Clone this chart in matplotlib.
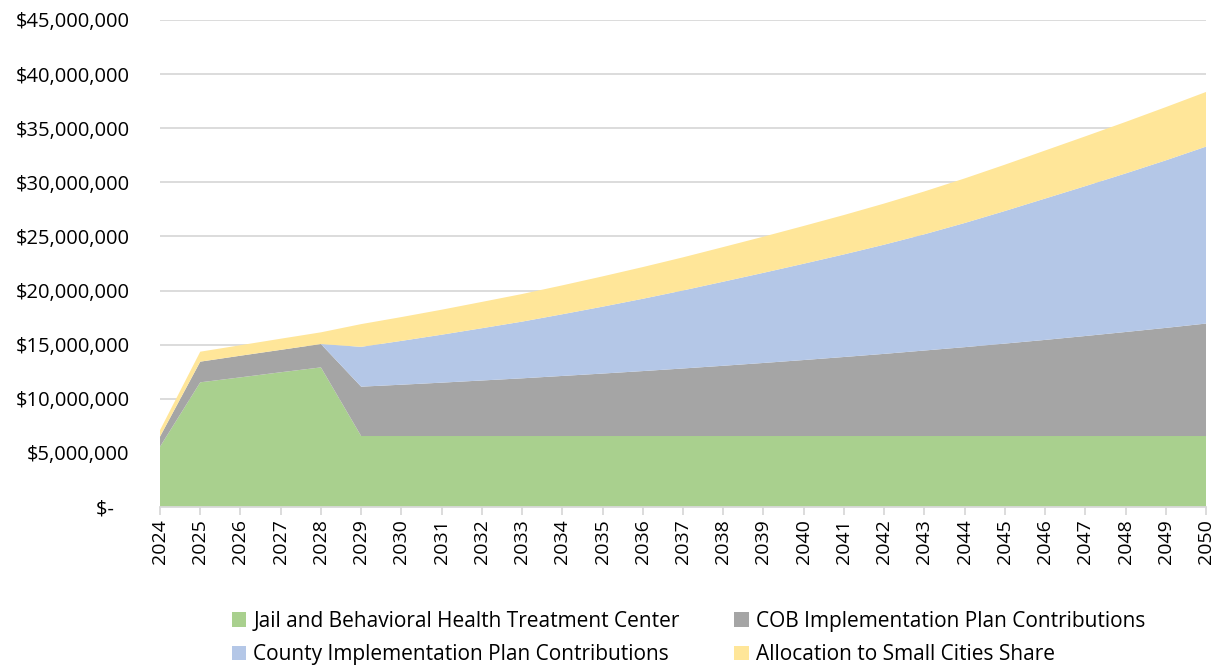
import matplotlib
matplotlib.use("Agg")
import matplotlib.pyplot as plt
from matplotlib.patches import Patch
from matplotlib.ticker import FuncFormatter

years = list(range(2024, 2051))

jail_bhtc = [5.57, 11.52, 11.98, 12.45, 12.90, 6.56, 6.56, 6.56, 6.56, 6.56,
             6.56, 6.56, 6.56, 6.56, 6.56, 6.56, 6.56, 6.56, 6.56, 6.56,
             6.56, 6.56, 6.56, 6.56, 6.56, 6.56, 6.56]
cob_plan = [0.93, 1.91, 2.00, 2.07, 2.16, 4.56, 4.74, 4.93, 5.13, 5.33,
            5.55, 5.77, 6.00, 6.24, 6.49, 6.75, 7.02, 7.30, 7.59, 7.90,
            8.21, 8.54, 8.88, 9.24, 9.61, 9.99, 10.39]
county_plan = [0.0, 0.0, 0.0, 0.0, 0.0, 3.68, 4.05, 4.43, 4.83, 5.24,
               5.70, 6.18, 6.68, 7.21, 7.77, 8.33, 8.90, 9.48, 10.09, 10.74,
               11.47, 12.25, 13.06, 13.85, 14.65, 15.48, 16.35]
small_cities = [0.60, 0.92, 0.97, 1.03, 1.08, 2.10, 2.20, 2.31, 2.43, 2.55,
                2.67, 2.80, 2.93, 3.06, 3.20, 3.34, 3.49, 3.64, 3.80, 3.96,
                4.12, 4.28, 4.44, 4.60, 4.76, 4.92, 5.05]

series_names = ["Jail and Behavioral Health Treatment Center",
                "COB Implementation Plan Contributions",
                "County Implementation Plan Contributions",
                "Allocation to Small Cities Share"]
colors = ["#A9D08E", "#A5A5A5", "#B4C7E7", "#FFE699"]

yticks = [0, 5e6, 10e6, 15e6, 20e6, 25e6, 30e6, 35e6, 40e6, 45e6]

plt.rcParams['font.family'] = ['Open Sans', 'DejaVu Sans']

fig = plt.figure(figsize=(12.25, 6.69), dpi=100)
ax = fig.add_axes([160/1225, 1-507/669, (1206-160)/1225, (507-20)/669])

scale = 1e6
data = [[v*scale for v in s] for s in (jail_bhtc, cob_plan, county_plan, small_cities)]
ax.stackplot(years, *data, colors=colors, linewidth=0, zorder=2)

ax.set_xlim(years[0], years[-1])
ax.set_ylim(0, 45e6)
ax.set_yticks(yticks)

def fmt(v, pos):
    if v == 0:
        return "$-   "
    return "${:,.0f}".format(v)
ax.yaxis.set_major_formatter(FuncFormatter(fmt))
ax.set_xticks(years)
ax.set_xticklabels([str(y) for y in years], rotation=90)

ax.grid(axis='y', color='#D9D9D9', linewidth=1.3, zorder=0)
ax.set_axisbelow(True)
for s in ['left', 'right', 'top']:
    ax.spines[s].set_visible(False)
ax.spines['bottom'].set_color('#D9D9D9')
ax.spines['bottom'].set_linewidth(1.3)
ax.tick_params(axis='y', length=0, pad=22, labelsize=14.5)
ax.tick_params(axis='x', length=6, color='#D9D9D9', width=1.3, labelsize=14, pad=3)

handles = [Patch(facecolor=c, edgecolor='none') for c in colors]
order = [0, 2, 1, 3]
fig.legend([handles[i] for i in order], [series_names[i] for i in order],
           loc='center', ncol=2, frameon=False,
           bbox_to_anchor=(0.562, 1-638/669), fontsize=15,
           handlelength=0.7, handleheight=0.7, handletextpad=0.35,
           columnspacing=2.6, labelspacing=0.6)

fig.savefig("out.png", dpi=100)
